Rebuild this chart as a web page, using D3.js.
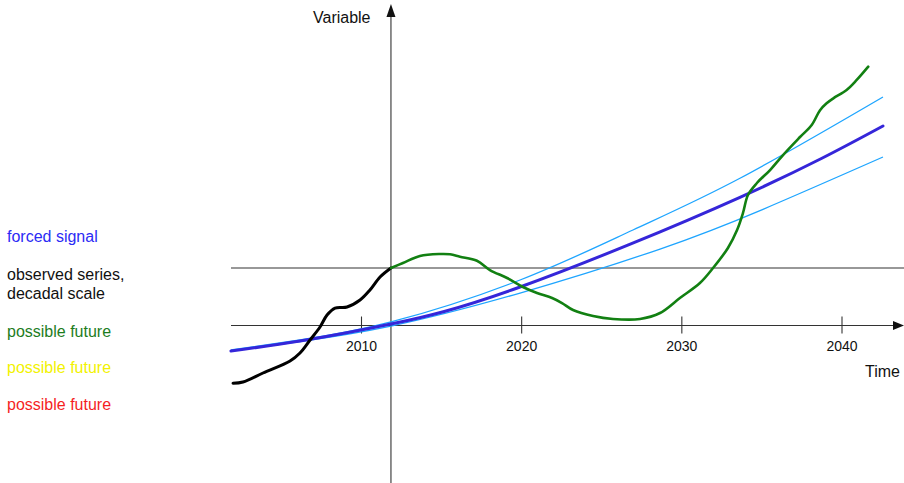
<!DOCTYPE html>
<html>
<head>
<meta charset="utf-8">
<script src="https://cdn.jsdelivr.net/npm/d3@7"></script>
<style>
  html, body { margin: 0; padding: 0; background: #fff; }
  svg { display: block; font-family: "Liberation Sans", Arial, Helvetica, sans-serif; }
</style>
</head>
<body>
<svg id="chart" width="904" height="483"></svg>
<script>
// Years along the time axis, values in units of the "current level" line (0 = time axis, 1 = upper line)
const tickYears = [2010, 2020, 2030, 2040];

// Forced signal (thick) and its spread (thin)
const forcedYears  = [2001.88, 2006.19, 2011.87, 2019.93, 2033.66, 2042.59];
const forcedValues = [-0.443, -0.270, 0.026, 0.670, 2.230, 3.470];

const upperYears  = [2001.88, 2006.19, 2011.87, 2019.93, 2026.98, 2033.66, 2042.59];
const upperValues = [-0.426, -0.252, 0.061, 0.791, 1.661, 2.560, 3.974];

const lowerYears  = [2001.88, 2006.19, 2011.87, 2019.93, 2028.67, 2035.10, 2042.59];
const lowerValues = [-0.443, -0.278, -0.009, 0.565, 1.330, 2.021, 2.930];

// Observed series up to the present
const observedYears  = [2002.01, 2002.63, 2003.88, 2005.57, 2006.19, 2006.82, 2007.44, 2007.88, 2008.38, 2009.13, 2009.94, 2010.56, 2011.19, 2011.87];
const observedValues = [-1.005, -0.983, -0.826, -0.617, -0.478, -0.252, -0.026, 0.183, 0.304, 0.322, 0.443, 0.617, 0.843, 1.000];

// One possible future
const futureYears  = [2011.87, 2012.62, 2013.68, 2014.93, 2015.56, 2016.18, 2017.24, 2018.05, 2019.12, 2020.11, 2020.99, 2021.93, 2022.55, 2023.24, 2024.49, 2025.73, 2027.42, 2028.67, 2029.91, 2031.16, 2031.98, 2032.91, 2033.48, 2033.85, 2034.16, 2034.72, 2035.54, 2036.35, 2037.41, 2038.14, 2038.66, 2039.07, 2039.49, 2040.32, 2040.95, 2041.67];
const futureValues = [1.000, 1.087, 1.209, 1.243, 1.238, 1.197, 1.127, 0.965, 0.826, 0.670, 0.565, 0.478, 0.391, 0.270, 0.165, 0.113, 0.113, 0.217, 0.478, 0.739, 1.000, 1.348, 1.661, 1.957, 2.270, 2.478, 2.704, 2.965, 3.278, 3.487, 3.745, 3.864, 3.951, 4.096, 4.270, 4.501];

const legendItems = [
  { lines: ["forced signal"], color: "#2b2bf5" },
  { lines: ["observed series,", "decadal scale"], color: "#111111" },
  { lines: ["possible future"], color: "#1d7d1d" },
  { lines: ["possible future"], color: "#f2f200" },
  { lines: ["possible future"], color: "#f51f1f" }
];

const svg = d3.select("#chart");

const x = d3.scaleLinear().domain([2010, 2040]).range([361, 841.5]);
const y = d3.scaleLinear().domain([0, 1]).range([325.5, 268]);

const xLeft = 231, xRight = 904;
const axisColor = "#333";
const labelSize = 16;

// Reference line at the present level
svg.append("line")
  .attr("x1", xLeft).attr("x2", xRight)
  .attr("y1", y(1)).attr("y2", y(1))
  .attr("stroke", axisColor).attr("stroke-width", 1.1);

// Time axis with ticks crossing the line
const xAxis = svg.append("g")
  .attr("transform", `translate(0,${y(0)})`)
  .call(d3.axisBottom(x).tickValues(tickYears).tickFormat(d3.format("d")).tickSize(8).tickPadding(7.5));
xAxis.select(".domain").remove();
xAxis.selectAll(".tick line").attr("y1", -9).attr("stroke", axisColor).attr("stroke-width", 1.1);
xAxis.selectAll(".tick text")
  .attr("font-size", 14).attr("fill", "#111")
  .attr("font-family", "'Liberation Sans', Arial, sans-serif");

svg.append("line")
  .attr("x1", xLeft).attr("x2", xRight - 8)
  .attr("y1", y(0)).attr("y2", y(0))
  .attr("stroke", axisColor).attr("stroke-width", 1.1);
svg.append("path")
  .attr("d", `M${xRight},${y(0)} L${xRight - 11},${y(0) - 4.5} L${xRight - 11},${y(0) + 4.5} Z`)
  .attr("fill", "#111");

// Vertical axis at the present
const xNow = x(2011.87);
svg.append("line")
  .attr("x1", xNow).attr("x2", xNow)
  .attr("y1", 14).attr("y2", 483)
  .attr("stroke", "#444").attr("stroke-width", 1.2);
svg.append("path")
  .attr("d", `M${xNow},4 L${xNow - 4.5},17 L${xNow + 4.5},17 Z`)
  .attr("fill", "#111");

// Axis titles
svg.append("text").attr("x", 313).attr("y", 23)
  .attr("font-size", labelSize).attr("fill", "#111").text("Variable");
svg.append("text").attr("x", 865).attr("y", 377)
  .attr("font-size", labelSize).attr("fill", "#111").text("Time");

// Series
const toPoints = (xs, vs) => xs.map((d, i) => [d, vs[i]]);
const smooth = d3.line().x(d => x(d[0])).y(d => y(d[1])).curve(d3.curveNatural);
const wiggly = d3.line().x(d => x(d[0])).y(d => y(d[1])).curve(d3.curveCatmullRom.alpha(0.5));

svg.append("path").datum(toPoints(upperYears, upperValues))
  .attr("d", smooth).attr("fill", "none").attr("stroke", "#1ea5ff").attr("stroke-width", 1.3);
svg.append("path").datum(toPoints(lowerYears, lowerValues))
  .attr("d", smooth).attr("fill", "none").attr("stroke", "#1ea5ff").attr("stroke-width", 1.3);
svg.append("path").datum(toPoints(forcedYears, forcedValues))
  .attr("d", smooth).attr("fill", "none").attr("stroke", "#3526d9").attr("stroke-width", 3).attr("stroke-linecap", "round");

svg.append("path").datum(toPoints(observedYears, observedValues))
  .attr("d", wiggly).attr("fill", "none").attr("stroke", "#000").attr("stroke-width", 3)
  .attr("stroke-linecap", "round").attr("stroke-linejoin", "round");
svg.append("path").datum(toPoints(futureYears, futureValues))
  .attr("d", wiggly).attr("fill", "none").attr("stroke", "#128012").attr("stroke-width", 2.6)
  .attr("stroke-linecap", "round").attr("stroke-linejoin", "round");

// Legend
const legendY = [242, 280, 337, 373, 410];
legendItems.forEach((item, i) => {
  const t = svg.append("text").attr("x", 7).attr("y", legendY[i])
    .attr("font-size", labelSize).attr("fill", item.color);
  item.lines.forEach((ln, j) => {
    t.append("tspan").attr("x", 7).attr("dy", j === 0 ? 0 : 19).text(ln);
  });
});
</script>
</body>
</html>
